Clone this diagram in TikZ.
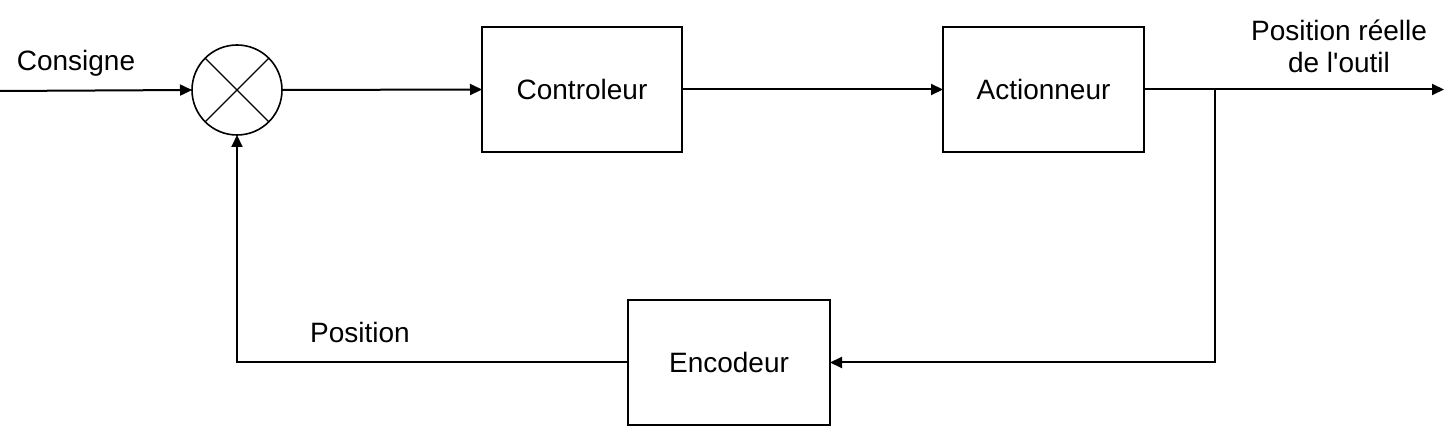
\documentclass[tikz,border=0pt]{standalone}
\usepackage{fontspec}
\setmainfont{Liberation Sans}[Ligatures=TeXOff]
\usetikzlibrary{arrows.meta}
\begin{document}
\begin{tikzpicture}[x=1pt,y=-1pt,
  blk/.style={draw,line width=2pt,minimum width=200pt,minimum height=125pt,inner sep=0pt,outer sep=0pt,font=\fontsize{28}{32}\selectfont},
  sumj/.style={draw,circle,line width=1.6pt,minimum size=90pt,inner sep=0pt,outer sep=0pt},
  lbl/.style={font=\fontsize{28}{32}\selectfont,inner sep=0pt,align=center},
  wire/.style={line width=2pt},
  arr/.style={wire,-{Triangle[length=12pt,width=11pt]}}]
\useasboundingbox (0,0) rectangle (1444,435);
\node[sumj] (sum) at (237,90) {};
\draw[line width=1.3pt] (sum.45) -- (sum.225) (sum.135) -- (sum.315);
\node[blk] (ctrl) at (582,89.5) {Controleur};
\node[blk,minimum width=201pt] (act) at (1043.5,89.5) {Actionneur};
\node[blk,minimum width=202pt] (enc) at (729,362.5) {Encodeur};
\coordinate (in) at (0,91);
\coordinate (br) at (1215,89.5);
\coordinate (out) at (1444,89.5);
\coordinate (brd) at (1215,362.5);
\coordinate (fbl) at (237,362.5);
\draw[arr] (in) -- (sum.west);
\draw[arr] (sum.east) -- (ctrl.west);
\draw[arr] (ctrl.east) -- (act.west);
\draw[arr] (act.east) -- (out);
\draw[arr] (br) -- (brd) -- (enc.east);
\draw[arr] (enc.west) -- (fbl) -- (sum.south);
\node[lbl] (consigne) at (76,63) {Consigne};
\node[lbl] (pos) at (360,332) {Position};
\node[lbl] (posr) at (1339,46) {Position réelle\\de l'outil};
\end{tikzpicture}
\end{document}
